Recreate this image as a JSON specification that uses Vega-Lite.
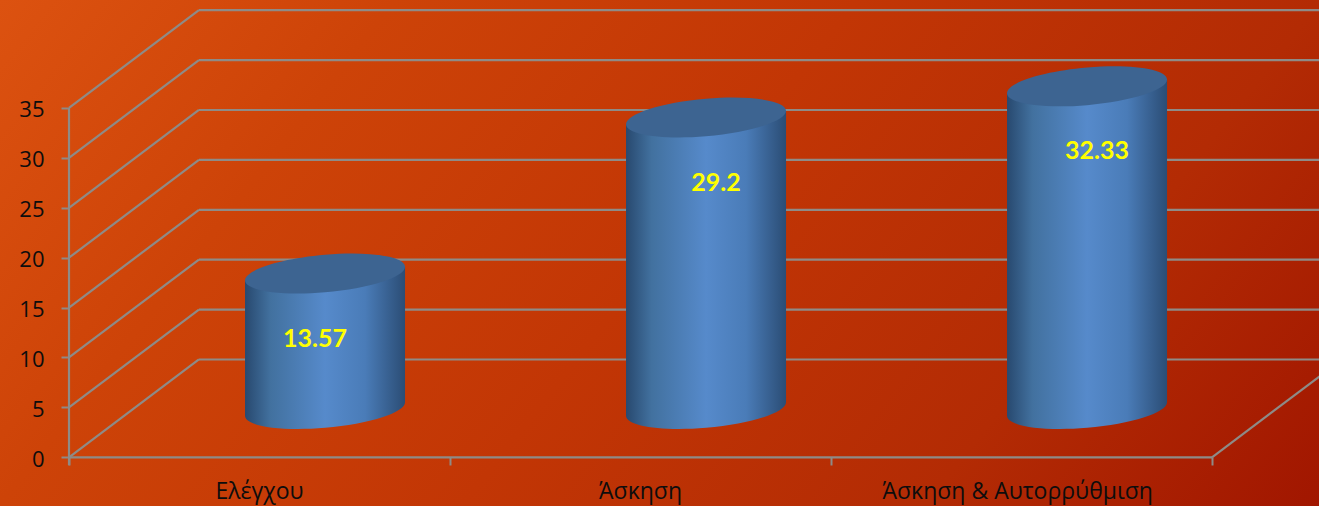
{
  "$schema": "https://vega.github.io/schema/vega-lite/v6.json",
  "width": 1319,
  "height": 506,
  "padding": 0,
  "autosize": {"type": "fit", "contains": "padding"},
  "config": {
    "view": {
      "stroke": null,
      "fill": {
        "gradient": "linear", "x1": 0, "y1": 0, "x2": 1.193, "y2": 0.358,
        "stops": [
          {"offset": 0, "color": "#dc5210"},
          {"offset": 0.23, "color": "#cd4308"},
          {"offset": 0.5, "color": "#c23605"},
          {"offset": 0.77, "color": "#b32b04"},
          {"offset": 1, "color": "#a11600"}
        ]
      }
    },
    "font": "Open Sans"
  },
  "datasets": {
    "groups": [
      {"group": "Ελέγχου", "value": 13.57},
      {"group": "Άσκηση", "value": 29.2},
      {"group": "Άσκηση & Αυτορρύθμιση", "value": 32.33}
    ],
    "ticks": [
      {"tick": 0}, {"tick": 5}, {"tick": 10}, {"tick": 15},
      {"tick": 20}, {"tick": 25}, {"tick": 30}, {"tick": 35}
    ]
  },
  "encoding": {
    "x": {
      "type": "quantitative",
      "scale": {"domain": [-0.1811, 3.2808], "nice": false, "zero": false},
      "axis": {
        "title": null, "orient": "bottom", "offset": -49, "values": [0, 1, 2, 3],
        "labels": false, "domain": false, "grid": false,
        "tickSize": 8, "tickWidth": 2, "tickColor": "#8e8b87"
      }
    },
    "y": {
      "type": "quantitative",
      "scale": {"domain": [-4.88, 45.82], "nice": false, "zero": false},
      "axis": {
        "title": null, "orient": "left", "offset": -69, "values": [0, 5, 10, 15, 20, 25, 30, 35],
        "domain": false, "grid": false,
        "tickSize": 8, "tickWidth": 2, "tickColor": "#8e8b87",
        "labelFontSize": 22, "labelColor": "#0d0d0d", "labelPadding": 17, "labelFont": "Open Sans", "labelOffset": 2
      }
    }
  },
  "layer": [
    {
      "description": "Back wall gridlines",
      "data": {"name": "ticks"},
      "transform": [{"calculate": "datum.tick + 9.8", "as": "backY"}],
      "mark": {"type": "rule", "color": "#8e8b87", "strokeWidth": 2.2, "clip": true},
      "encoding": {
        "x": {"datum": 0.341},
        "x2": {"datum": 3.2808},
        "y": {"field": "backY"}
      }
    },
    {
      "description": "Side wall gridlines receding from the value axis",
      "data": {"name": "ticks"},
      "transform": [{"calculate": "datum.tick + 9.8", "as": "backY"}],
      "mark": {"type": "rule", "color": "#8e8b87", "strokeWidth": 2.2},
      "encoding": {
        "x": {"datum": 0},
        "x2": {"datum": 0.341},
        "y": {"field": "tick"},
        "y2": {"field": "backY"}
      }
    },
    {
      "description": "Value axis line, front floor edge and right floor edge",
      "data": {"values": [{"y0": -0.8, "y1": 35, "x0": 0, "x1": 0}, {"y0": 0, "y1": 0, "x0": 0, "x1": 3}, {"y0": 0, "y1": 9.8, "x0": 3, "x1": 3.341}]},
      "mark": {"type": "rule", "color": "#8e8b87", "strokeWidth": 2.2, "clip": true},
      "encoding": {
        "x": {"field": "x0"},
        "x2": {"field": "x1"},
        "y": {"field": "y0"},
        "y2": {"field": "y1"}
      }
    },
    {
      "description": "Cylinder base",
      "data": {"name": "groups"},
      "transform": [
        {"window": [{"op": "row_number", "as": "rank"}]},
        {"calculate": "datum.rank - 0.328", "as": "cx"},
        {"calculate": "4.84", "as": "baseY"}
      ],
      "mark": {
        "type": "point", "filled": true, "opacity": 1, "size": 25600,
        "shape": "M-1,0.085C-1,0.2148,-0.5523,0.2819,0,0.235C0.5523,0.1881,1,0.0448,1,-0.085C1,-0.2148,0.5523,-0.2819,0,-0.235C-0.5523,-0.1881,-1,-0.0448,-1,0.085Z",
        "fill": {
          "gradient": "linear", "x1": 0, "y1": 0, "x2": 1, "y2": 0,
          "stops": [
            {"offset": 0, "color": "#28496f"},
            {"offset": 0.16, "color": "#42719f"},
            {"offset": 0.5, "color": "#568acb"},
            {"offset": 0.75, "color": "#4a7cb8"},
            {"offset": 1, "color": "#2b4d75"}
          ]
        }
      },
      "encoding": {
        "x": {"field": "cx"},
        "y": {"field": "baseY"}
      }
    },
    {
      "description": "Cylinder side, sheared to follow the tilt of its ends",
      "data": {"name": "groups"},
      "transform": [
        {"window": [{"op": "row_number", "as": "rank"}]},
        {"calculate": "[-1, 1]", "as": "edge"},
        {"flatten": ["edge"]},
        {"calculate": "datum.rank - 0.328 + datum.edge * 0.21", "as": "sideX"},
        {"calculate": "4.84 + datum.edge * 0.68", "as": "sideBottom"},
        {"calculate": "datum.value + datum.sideBottom", "as": "sideTop"}
      ],
      "mark": {
        "type": "area",
        "fill": {
          "gradient": "linear", "x1": 0, "y1": 0, "x2": 1, "y2": 0,
          "stops": [
            {"offset": 0, "color": "#28496f"},
            {"offset": 0.16, "color": "#42719f"},
            {"offset": 0.5, "color": "#568acb"},
            {"offset": 0.75, "color": "#4a7cb8"},
            {"offset": 1, "color": "#2b4d75"}
          ]
        }
      },
      "encoding": {
        "x": {"field": "sideX"},
        "y": {"field": "sideTop"},
        "y2": {"field": "sideBottom"},
        "detail": {"field": "group"}
      }
    },
    {
      "description": "Cylinder top",
      "data": {"name": "groups"},
      "transform": [
        {"window": [{"op": "row_number", "as": "rank"}]},
        {"calculate": "datum.rank - 0.328", "as": "cx"},
        {"calculate": "datum.value + 4.84", "as": "topY"}
      ],
      "mark": {
        "type": "point", "filled": true, "opacity": 1, "size": 25600,
        "shape": "M-1,0.085C-1,0.2148,-0.5523,0.2819,0,0.235C0.5523,0.1881,1,0.0448,1,-0.085C1,-0.2148,0.5523,-0.2819,0,-0.235C-0.5523,-0.1881,-1,-0.0448,-1,0.085Z",
        "fill": "#3d6491"
      },
      "encoding": {
        "x": {"field": "cx"},
        "y": {"field": "topY"}
      }
    },
    {
      "description": "Value label on the first cylinder",
      "data": {"name": "groups"},
      "transform": [
        {"window": [{"op": "row_number", "as": "rank"}]},
        {"filter": "datum.rank == 1"},
        {"calculate": "datum.rank - 0.328", "as": "cx"},
        {"calculate": "datum.value + 4.84", "as": "topY"}
      ],
      "mark": {"type": "text", "font": "Lato", "fontWeight": "bold", "fontSize": 25, "color": "#ffff00", "dx": -10, "dy": 65, "baseline": "middle"},
      "encoding": {
        "x": {"field": "cx"},
        "y": {"field": "topY"},
        "text": {"field": "value"}
      }
    },
    {
      "description": "Value labels on the other cylinders",
      "data": {"name": "groups"},
      "transform": [
        {"window": [{"op": "row_number", "as": "rank"}]},
        {"filter": "datum.rank > 1"},
        {"calculate": "datum.rank - 0.328", "as": "cx"},
        {"calculate": "datum.value + 4.84", "as": "topY"}
      ],
      "mark": {"type": "text", "font": "Lato", "fontWeight": "bold", "fontSize": 25, "color": "#ffff00", "dx": 10, "dy": 65, "baseline": "middle"},
      "encoding": {
        "x": {"field": "cx"},
        "y": {"field": "topY"},
        "text": {"field": "value"}
      }
    },
    {
      "description": "Category labels under the floor",
      "data": {"name": "groups"},
      "transform": [
        {"window": [{"op": "row_number", "as": "rank"}]},
        {"calculate": "datum.rank - 0.5 - (datum.rank == 3 ? 0.01 : 0)", "as": "labelX"}
      ],
      "mark": {"type": "text", "font": "Open Sans", "fontSize": 23, "color": "#0d0d0d", "baseline": "middle"},
      "encoding": {
        "x": {"field": "labelX"},
        "y": {"datum": -3.5},
        "text": {"field": "group"}
      }
    }
  ]
}
